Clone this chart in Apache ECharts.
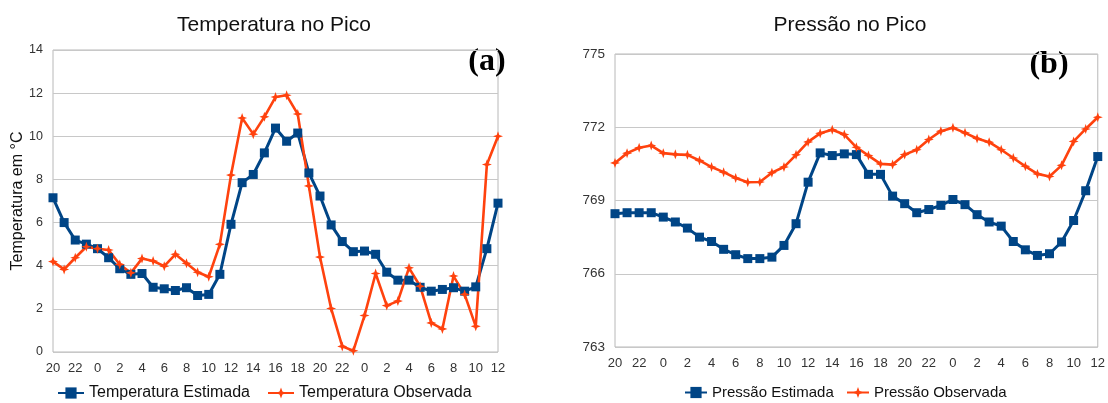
<!DOCTYPE html>
<html>
<head>
<meta charset="utf-8">
<title>Temperatura e Pressão no Pico</title>
<script src="https://cdn.jsdelivr.net/npm/echarts@6/dist/echarts.min.js"></script>
<style>
  html, body { margin: 0; padding: 0; background: #fff; }
  #grafico { width: 1108px; height: 403px; }
</style>
</head>
<body>
<div id="grafico"></div>
<script type="text/javascript">
// horas (20h do dia 1 ate 12h do dia 3)
var horas = ['20','21','22','23','0','1','2','3','4','5','6','7','8','9','10','11','12','13','14','15','16','17','18','19',
             '20','21','22','23','0','1','2','3','4','5','6','7','8','9','10','11','12'];

// (a) temperatura em °C
var tempEstimada = [7.15, 6.0, 5.19, 5.0, 4.79, 4.37, 3.86, 3.6, 3.64, 3.0,
                    2.93, 2.85, 2.98, 2.62, 2.67, 3.6, 5.92, 7.85, 8.23, 9.23,
                    10.38, 9.77, 10.15, 8.3, 7.23, 5.89, 5.12, 4.65, 4.68, 4.53,
                    3.7, 3.33, 3.33, 3.0, 2.82, 2.9, 2.98, 2.82, 3.02, 4.79, 6.9];
var tempObservada = [4.19, 3.83, 4.37, 4.88, 4.79, 4.73, 4.06, 3.67, 4.33, 4.22,
                     3.98, 4.53, 4.11, 3.7, 3.49, 4.99, 8.2, 10.85, 10.1, 10.9,
                     11.82, 11.9, 11.03, 7.7, 4.4, 2.02, 0.26, 0.06, 1.69, 3.64,
                     2.15, 2.36, 3.9, 3.05, 1.35, 1.07, 3.52, 2.67, 1.19, 8.69, 10.0];

// (b) pressao
var pressaoEstimada = [768.46, 768.5, 768.5, 768.5, 768.32, 768.12, 767.87, 767.5, 767.32, 767.0,
                       766.78, 766.62, 766.62, 766.68, 767.16, 768.05, 769.75, 770.95, 770.84, 770.91,
                       770.88, 770.07, 770.07, 769.18, 768.87, 768.5, 768.63, 768.8, 769.04, 768.83,
                       768.42, 768.12, 767.95, 767.32, 766.98, 766.75, 766.82, 767.3, 768.18, 769.4, 770.8];
var pressaoObservada = [770.54, 770.94, 771.16, 771.25, 770.94, 770.89, 770.87, 770.64, 770.37, 770.16,
                        769.92, 769.75, 769.76, 770.14, 770.37, 770.87, 771.4, 771.75, 771.9, 771.7,
                        771.18, 770.84, 770.5, 770.47, 770.88, 771.08, 771.5, 771.84, 771.98, 771.77,
                        771.54, 771.39, 771.08, 770.74, 770.4, 770.09, 769.98, 770.44, 771.42, 771.93, 772.41];

var AZUL = '#004586';
var LARANJA = '#ff420e';
var FONTE = '"Liberation Sans", Arial, sans-serif';
var ESTRELA = 'path://M0,-10 L2.6,-2.6 L10,0 L2.6,2.6 L0,10 L-2.6,2.6 L-10,0 L-2.6,-2.6 Z';

var myChart = echarts.init(document.getElementById('grafico'));

function eixoX(idx) {
    return {
        type: 'category', gridIndex: idx, data: horas, boundaryGap: false,
        axisLine: { show: false }, axisTick: { show: false },
        axisLabel: { interval: 1, fontFamily: FONTE, fontSize: 13, color: '#333', margin: 10 },
        splitLine: { show: false }
    };
}

function legenda(nome, x, larg, tam) {
    return {
        data: [nome], left: x, top: 385, padding: 0, itemWidth: larg, itemHeight: 14,
        textStyle: { fontFamily: FONTE, fontSize: tam, color: '#111' }
    };
}

function serie(nome, eixo, dados, cor, simbolo, larg) {
    return {
        name: nome, type: 'line', xAxisIndex: eixo, yAxisIndex: eixo,
        data: dados, symbol: simbolo, symbolSize: simbolo === 'rect' ? 9 : 10,
        showAllSymbol: true,
        itemStyle: { color: cor }, lineStyle: { color: cor, width: larg }
    };
}

option = {
    animation: false,
    backgroundColor: '#fff',
    grid: [
        { left: 53, top: 50, width: 445, height: 302, show: true, borderColor: '#b8b8b8', borderWidth: 1 },
        { left: 615, top: 54, width: 485, height: 293, show: true, borderColor: '#b8b8b8', borderWidth: 1 }
    ],
    xAxis: [eixoX(0), eixoX(1)],
    yAxis: [
        {
            type: 'value', gridIndex: 0, min: 0, max: 14, interval: 2,
            name: 'Temperatura em °C', nameLocation: 'middle', nameGap: 27,
            nameTextStyle: { fontFamily: FONTE, fontSize: 16, color: '#111' },
            axisLine: { show: false }, axisTick: { show: false },
            axisLabel: { fontFamily: FONTE, fontSize: 12.5, color: '#333', margin: 10 },
            splitLine: { lineStyle: { color: '#c8c8c8', width: 1 } }
        },
        {
            type: 'value', gridIndex: 1, min: 763, max: 775, interval: 3,
            axisLine: { show: false }, axisTick: { show: false },
            axisLabel: { fontFamily: FONTE, fontSize: 13.5, color: '#333', margin: 10 },
            splitLine: { lineStyle: { color: '#c8c8c8', width: 1 } }
        }
    ],
    legend: [
        legenda('Temperatura Estimada', 57, 26, 16),
        legenda('Temperatura Observada', 267, 26, 16),
        legenda('Pressão Estimada', 684, 22, 15),
        legenda('Pressão Observada', 846, 22, 15)
    ],
    series: [
        serie('Temperatura Estimada', 0, tempEstimada, AZUL, 'rect', 3),
        serie('Temperatura Observada', 0, tempObservada, LARANJA, ESTRELA, 2.6),
        serie('Pressão Estimada', 1, pressaoEstimada, AZUL, 'rect', 3),
        serie('Pressão Observada', 1, pressaoObservada, LARANJA, ESTRELA, 2.6)
    ],
    graphic: [
        { type: 'text', x: 274, y: 25, style: { text: 'Temperatura no Pico', font: '21px ' + FONTE, fill: '#111', align: 'center', verticalAlign: 'middle' } },
        { type: 'text', x: 850, y: 25, style: { text: 'Pressão no Pico', font: '21px ' + FONTE, fill: '#111', align: 'center', verticalAlign: 'middle' } },
        { type: 'text', x: 487, y: 62, style: { text: '(a)', font: 'bold 32px "Liberation Serif", "Times New Roman", serif', fill: '#000', align: 'center', verticalAlign: 'middle' } },
        { type: 'text', x: 1049, y: 65, style: { text: '(b)', font: 'bold 32px "Liberation Serif", "Times New Roman", serif', fill: '#000', align: 'center', verticalAlign: 'middle' } }
    ]
};

myChart.setOption(option);
</script>
</body>
</html>
